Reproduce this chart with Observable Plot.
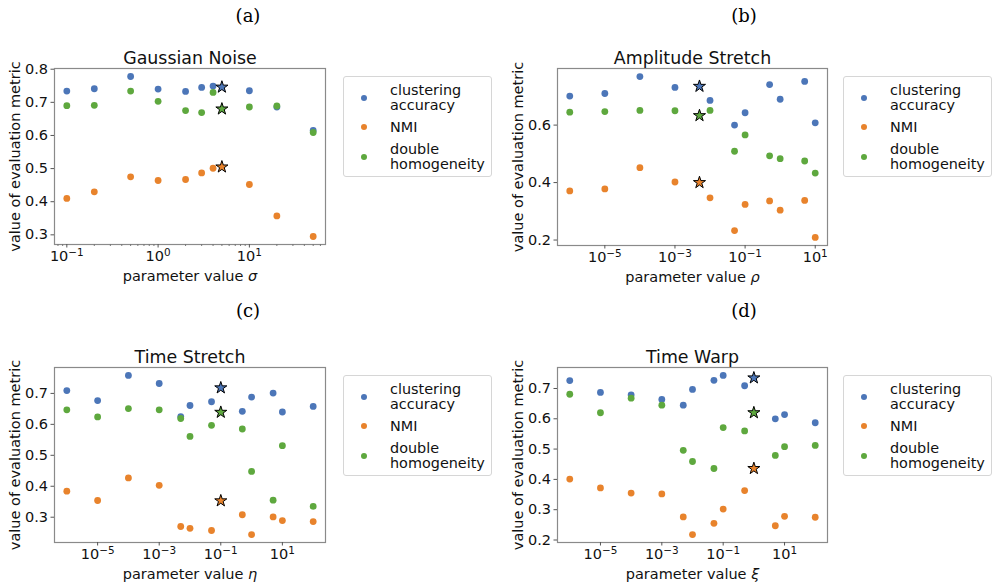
<!DOCTYPE html>
<html><head><meta charset="utf-8">
<script src="https://cdn.jsdelivr.net/npm/d3@7"></script>
<script src="https://cdn.jsdelivr.net/npm/@observablehq/plot@0.6"></script>
<style>
body{margin:0;background:#fff;}
#fig{position:relative;width:993px;height:587px;overflow:hidden;background:#fff;font-family:"DejaVu Sans",sans-serif;}
.panel{position:absolute;}
.tag{position:absolute;font-family:"DejaVu Serif",serif;font-size:18px;line-height:18px;color:#000;transform:translateX(-50%);white-space:nowrap;}
.legend{position:absolute;border:1px solid #d6d6d6;border-radius:3px;box-sizing:border-box;background:#fff;font-size:14.4px;color:#111;}
.entry{position:absolute;left:46px;line-height:15px;white-space:nowrap;}
.mk{position:absolute;width:6px;height:6px;border-radius:50%;}
</style></head><body><div id="fig"></div>
<script>
// ---- data ----
const metrics = ["clustering\naccuracy", "NMI", "double\nhomogeneity"];
const colors = ["#4c76b8", "#e8832c", "#5ea83e"];
const panelTags = ["(a)", "(b)", "(c)", "(d)"];
const titles = ["Gaussian Noise", "Amplitude Stretch", "Time Stretch", "Time Warp"];
const paramSymbols = ["σ", "ρ", "η", "ξ"];

const gaussX   = [0.1, 0.2, 0.5, 1, 2, 3, 4, 5, 10, 20, 50];
const gaussAcc = [0.734, 0.741, 0.778, 0.740, 0.733, 0.745, 0.749, 0.746, 0.735, 0.686, 0.615];
const gaussNMI = [0.410, 0.430, 0.475, 0.464, 0.467, 0.487, 0.501, 0.505, 0.452, 0.357, 0.295];
const gaussDH  = [0.690, 0.691, 0.734, 0.703, 0.675, 0.669, 0.730, 0.680, 0.686, 0.689, 0.609];
const gaussBest = 5;

const ampX   = [1e-6, 1e-5, 1e-4, 1e-3, 5e-3, 1e-2, 5e-2, 0.1, 0.5, 1, 5, 10];
const ampAcc = [0.701, 0.710, 0.769, 0.731, 0.735, 0.686, 0.600, 0.643, 0.741, 0.690, 0.752, 0.608];
const ampNMI = [0.371, 0.378, 0.452, 0.402, 0.400, 0.347, 0.233, 0.324, 0.336, 0.304, 0.338, 0.209];
const ampDH  = [0.645, 0.647, 0.651, 0.650, 0.633, 0.651, 0.509, 0.566, 0.493, 0.483, 0.475, 0.433];
const ampBest = 5e-3;

const tsX   = [1e-6, 1e-5, 1e-4, 1e-3, 5e-3, 1e-2, 5e-2, 0.1, 0.5, 1, 5, 10, 100];
const tsAcc = [0.709, 0.677, 0.758, 0.732, 0.625, 0.661, 0.673, 0.718, 0.642, 0.688, 0.701, 0.640, 0.658];
const tsNMI = [0.384, 0.354, 0.427, 0.403, 0.270, 0.264, 0.257, 0.353, 0.308, 0.244, 0.301, 0.289, 0.286];
const tsDH  = [0.647, 0.624, 0.651, 0.647, 0.619, 0.561, 0.597, 0.639, 0.585, 0.448, 0.355, 0.531, 0.335];
const tsBest = 0.1;

const twX   = [1e-6, 1e-5, 1e-4, 1e-3, 5e-3, 1e-2, 5e-2, 0.1, 0.5, 1, 5, 10, 100];
const twAcc = [0.726, 0.687, 0.679, 0.664, 0.645, 0.697, 0.727, 0.743, 0.709, 0.735, 0.600, 0.614, 0.587];
const twNMI = [0.401, 0.372, 0.355, 0.352, 0.276, 0.218, 0.255, 0.302, 0.363, 0.436, 0.247, 0.278, 0.275];
const twDH  = [0.681, 0.620, 0.668, 0.645, 0.496, 0.459, 0.436, 0.571, 0.560, 0.620, 0.479, 0.508, 0.512];
const twBest = 1;

// ---- tick labels ----
const gaussXTicks = [0.1, 1, 10];
const gaussXMinor = [0.08, 0.09, 0.2, 0.3, 0.4, 0.5, 0.6, 0.7, 0.8, 0.9, 2, 3, 4, 5, 6, 7, 8, 9, 20, 30, 40, 50, 60];
const wideXTicks = [1e-5, 1e-3, 1e-1, 1e1];
const gaussYTicks = [0.3, 0.4, 0.5, 0.6, 0.7, 0.8];
const ampYTicks = [0.2, 0.4, 0.6];
const tsYTicks = [0.3, 0.4, 0.5, 0.6, 0.7];
const twYTicks = [0.2, 0.3, 0.4, 0.5, 0.6, 0.7];

const panels = [
  {x: gaussX, s: [gaussAcc, gaussNMI, gaussDH], best: gaussBest, xt: gaussXTicks, xm: gaussXMinor, yt: gaussYTicks,
   box: {left: 0, top: 30, w: 340, h: 270, ml: 54, mr: 15, mt: 38, mb: 56}, tag: {x: 248, y: 7}, leg: {x: 343, y: 76}},
  {x: ampX, s: [ampAcc, ampNMI, ampDH], best: ampBest, xt: wideXTicks, xm: [], yt: ampYTicks,
   box: {left: 500, top: 30, w: 340, h: 270, ml: 57, mr: 13, mt: 38, mb: 55}, tag: {x: 744, y: 7}, leg: {x: 843, y: 76}},
  {x: tsX, s: [tsAcc, tsNMI, tsDH], best: tsBest, xt: wideXTicks, xm: [], yt: tsYTicks,
   box: {left: 0, top: 330, w: 340, h: 257, ml: 54, mr: 15, mt: 37, mb: 45}, tag: {x: 248, y: 302}, leg: {x: 343, y: 375}},
  {x: twX, s: [twAcc, twNMI, twDH], best: twBest, xt: wideXTicks, xm: [], yt: twYTicks,
   box: {left: 500, top: 330, w: 340, h: 257, ml: 57, mr: 13, mt: 37, mb: 45}, tag: {x: 744, y: 302}, leg: {x: 843, y: 375}}
];

const fig = document.getElementById("fig");
const SVGNS = "http://www.w3.org/2000/svg";

panels.forEach((p, i) => {
  const rows = [];
  p.s.forEach((vals, k) => vals.forEach((v, j) => rows.push({x: p.x[j], y: v, k, best: p.x[j] === p.best})));
  // matplotlib-like 5% margins
  const lx = d3.extent(p.x).map(Math.log10);
  const dx = (lx[1] - lx[0]) * 0.05;
  const xd = [10 ** (lx[0] - dx), 10 ** (lx[1] + dx)];
  const ye = d3.extent(rows, d => d.y);
  const dy = (ye[1] - ye[0]) * 0.05;
  const yd = [ye[0] - dy, ye[1] + dy];

  const marks = [
    Plot.frame({stroke: "#8a8a8a", strokeWidth: 1.2}),
    Plot.axisX({ticks: p.xt, tickFormat: d => "10^" + Math.round(Math.log10(d)), tickSize: 3.5, tickPadding: 3, stroke: "#555", fill: "#111", fontSize: 14.5, label: null}),
    Plot.axisY({ticks: p.yt, tickFormat: d => d.toFixed(1), tickSize: 3.5, tickPadding: 3, stroke: "#555", fill: "#111", fontSize: 14.5, label: null}),
  ];
  if (p.xm.length) marks.push(Plot.axisX({ticks: p.xm, tickFormat: () => "", tickSize: 2, stroke: "#777", label: null}));
  [0, 1, 2].forEach(k => {
    marks.push(Plot.dot(rows.filter(d => d.k === k && !d.best), {x: "x", y: "y", r: 3.4, fill: colors[k], stroke: null}));
  });
  [0, 1, 2].forEach(k => {
    marks.push(Plot.dot(rows.filter(d => d.k === k && d.best), {x: "x", y: "y", r: 3.8, symbol: "star", fill: colors[k], stroke: "#000", strokeWidth: 1}));
  });
  marks.push(Plot.text([titles[i]], {frameAnchor: "top", dy: -4.5, lineAnchor: "bottom", fontSize: 17.4, fill: "#111"}));
  marks.push(Plot.text(["parameter value " + paramSymbols[i]], {frameAnchor: "bottom", dy: 36.5, lineAnchor: "bottom", fontSize: 14.5, fill: "#111"}));
  marks.push(Plot.text(["value of evaluation metric"], {frameAnchor: "left", dx: -39, rotate: -90, textAnchor: "middle", lineAnchor: "middle", fontSize: 14.5, fill: "#111"}));

  const b = p.box;
  const svg = Plot.plot({
    width: b.w, height: b.h,
    marginLeft: b.ml, marginRight: b.mr, marginTop: b.mt, marginBottom: b.mb,
    x: {type: "log", domain: xd, axis: null},
    y: {domain: yd, axis: null},
    style: {fontFamily: '"DejaVu Sans", sans-serif', fontSize: "14.5px", color: "#111", background: "transparent", overflow: "visible"},
    marks
  });

  // superscripts on log tick labels, italic parameter symbol
  svg.querySelectorAll("text").forEach(t => {
    const s = t.textContent;
    if (/^10\^/.test(s)) {
      const e = s.split("^")[1].replace("-", "\u2212");
      t.textContent = "10";
      const ts = document.createElementNS(SVGNS, "tspan");
      ts.setAttribute("dy", "-0.48em");
      ts.setAttribute("font-size", "0.72em");
      ts.textContent = e;
      t.appendChild(ts);
    } else if (s.startsWith("parameter value ")) {
      const sym = s.slice(-1);
      t.textContent = "parameter value ";
      const ts = document.createElementNS(SVGNS, "tspan");
      ts.setAttribute("font-style", "italic");
      ts.textContent = sym;
      t.appendChild(ts);
    }
  });

  const wrap = document.createElement("div");
  wrap.className = "panel";
  wrap.style.left = b.left + "px";
  wrap.style.top = b.top + "px";
  wrap.appendChild(svg);
  fig.appendChild(wrap);

  const tag = document.createElement("div");
  tag.className = "tag";
  tag.style.left = p.tag.x + "px";
  tag.style.top = p.tag.y + "px";
  tag.textContent = panelTags[i];
  fig.appendChild(tag);

  const leg = document.createElement("div");
  leg.className = "legend";
  leg.style.left = p.leg.x + "px";
  leg.style.top = p.leg.y + "px";
  leg.style.width = "149px";
  leg.style.height = "101px";
  const centers = [21.3, 50, 80];
  metrics.forEach((m, k) => {
    const mk = document.createElement("div");
    mk.className = "mk";
    mk.style.background = colors[k];
    mk.style.left = (20 - 3) + "px";
    mk.style.top = (centers[k] - 3) + "px";
    leg.appendChild(mk);
    const lines = m.split("\n");
    const en = document.createElement("div");
    en.className = "entry";
    en.style.top = (centers[k] - lines.length * 7.5) + "px";
    en.innerHTML = lines.join("<br>");
    leg.appendChild(en);
  });
  fig.appendChild(leg);
});
</script></body></html>
